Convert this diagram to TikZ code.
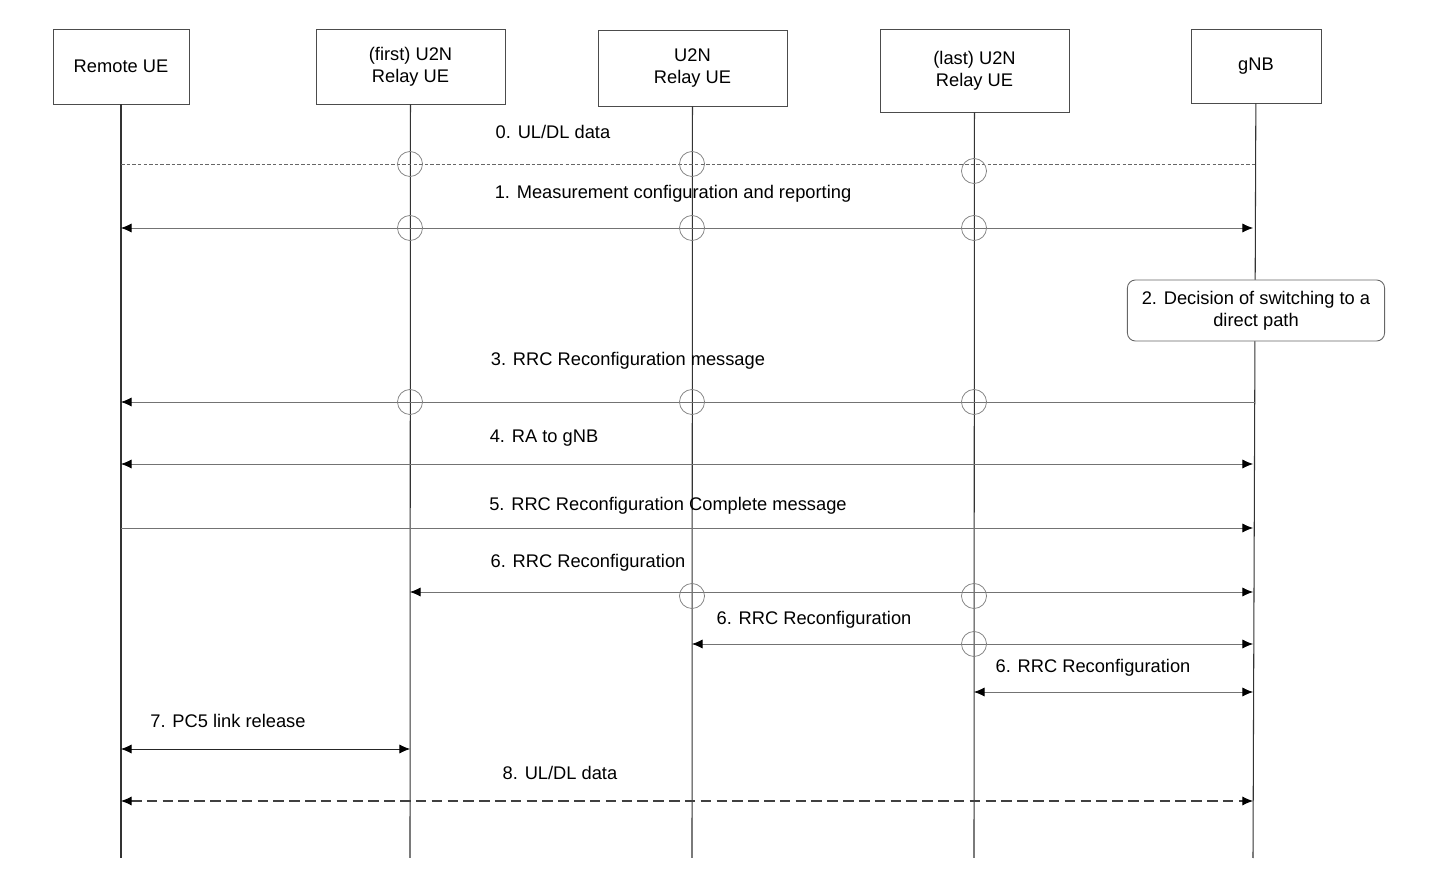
\documentclass[tikz,border=0pt]{standalone}
\usepackage{fontspec}
\setmainfont{Liberation Sans}
\usetikzlibrary{arrows.meta}
\begin{document}
\begin{tikzpicture}[x=0.01cm,y=-0.01cm,font=\fontsize{5.2}{6.2}\selectfont,
  hdr/.style={draw=black!70,line width=0.25pt,align=center,inner sep=0pt},
  life/.style={draw=black!80,line width=0.3pt},
  tip/.style={Latex[length=3pt,width=2.6pt,fill=black,color=black]},
  msg/.style={draw=black!55,line width=0.22pt,-{Latex[length=3pt,width=2.6pt,fill=black,color=black]}},
  both/.style={msg,{Latex[length=3pt,width=2.6pt,fill=black,color=black]}-{Latex[length=3pt,width=2.6pt,fill=black,color=black]}},
  hop/.style={draw=black!50,line width=0.22pt,circle,minimum size=0.25cm,inner sep=0pt}]
\useasboundingbox (0,0) rectangle (1438,876);
% headers
\node[hdr,minimum width=1.36cm,minimum height=0.75cm] (rue) at (121,66.5) {Remote UE};
\node[hdr,minimum width=1.89cm,minimum height=0.75cm] (first) at (410.5,66.5) {(first) U2N\\Relay UE};
\node[hdr,minimum width=1.89cm,minimum height=0.76cm] (mid) at (692.5,68) {U2N\\Relay UE};
\node[hdr,minimum width=1.89cm,minimum height=0.83cm] (last) at (974.5,70.5) {(last) U2N\\Relay UE};
\node[hdr,minimum width=1.30cm,minimum height=0.74cm] (gnb) at (1256,66) {gNB};
% lifelines
\coordinate (rueE) at (121,858);
\coordinate (firstE) at (410,858);
\coordinate (midE) at (692,858);
\coordinate (lastE) at (974,858);
\coordinate (gnbE) at (1253,858);
\draw[life] (rue) -- (rueE);
\draw[life] (first) -- (firstE);
\draw[life] (mid) -- (midE);
\draw[life] (last) -- (lastE);
\draw[life] (gnb) -- (gnbE);
% 2. decision
\node[draw=black!60,line width=0.25pt,rounded corners=0.08cm,fill=white,align=center,
  minimum width=2.57cm,minimum height=0.61cm,inner sep=0pt] (dec) at (1256,310.5)
  {2. Decision of switching to a\\direct path};
% 0
\coordinate (m0a) at (121,164); \coordinate (m0b) at (1255,164);
\draw[draw=black!60,line width=0.25pt,dash pattern=on 1pt off 0.6pt] (m0a) -- (m0b);
\node (l0) at (553,132) {0. UL/DL data};
\node[hop] (c01) at (410,164) {}; \node[hop] (c02) at (692,164) {}; \node[hop] (c03) at (974,171) {};
% 1
\coordinate (m1a) at (121,228); \coordinate (m1b) at (1253,228);
\draw[both] (m1a) -- (m1b);
\node (l1) at (673,194) {1. Measurement configuration and reporting};
\node[hop] (c11) at (410,228) {}; \node[hop] (c12) at (692,228) {}; \node[hop] (c13) at (974,228) {};
% 3
\coordinate (m3a) at (1255,402); \coordinate (m3b) at (121,402);
\draw[msg] (m3a) -- (m3b);
\node (l3) at (628,361) {3. RRC Reconfiguration message};
\node[hop] (c31) at (410,402) {}; \node[hop] (c32) at (692,402) {}; \node[hop] (c33) at (974,402) {};
% 4
\coordinate (m4a) at (121,464); \coordinate (m4b) at (1253,464);
\draw[both] (m4a) -- (m4b);
\node (l4) at (544,438) {4. RA to gNB};
% 5
\coordinate (m5a) at (121,528); \coordinate (m5b) at (1253,528);
\draw[msg] (m5a) -- (m5b);
\node (l5) at (668,506) {5. RRC Reconfiguration Complete message};
% 6
\coordinate (m6a) at (410,592); \coordinate (m6b) at (1253,592);
\draw[both] (m6a) -- (m6b);
\node (l6) at (588,563) {6. RRC Reconfiguration};
\node[hop] (c61) at (692,596) {}; \node[hop] (c62) at (974,596) {};
\coordinate (m6c) at (692,644); \coordinate (m6d) at (1253,644);
\draw[both] (m6c) -- (m6d);
\node (l6b) at (814,620) {6. RRC Reconfiguration};
\node[hop] (c63) at (974,644) {};
\coordinate (m6e) at (974,692); \coordinate (m6f) at (1253,692);
\draw[both] (m6e) -- (m6f);
\node (l6c) at (1093,668) {6. RRC Reconfiguration};
% 7
\coordinate (m7a) at (121,749); \coordinate (m7b) at (410,749);
\draw[both,draw=black!85] (m7a) -- (m7b);
\node (l7) at (228,721) {7. PC5 link release};
% 8
\coordinate (m8a) at (121,801); \coordinate (m8b) at (1253,801);
\draw[both,draw=black!75,line width=0.3pt,dash pattern=on 3pt off 1.5pt] (m8a) -- (m8b);
\node (l8) at (560,773) {8. UL/DL data};
\end{tikzpicture}
\end{document}
